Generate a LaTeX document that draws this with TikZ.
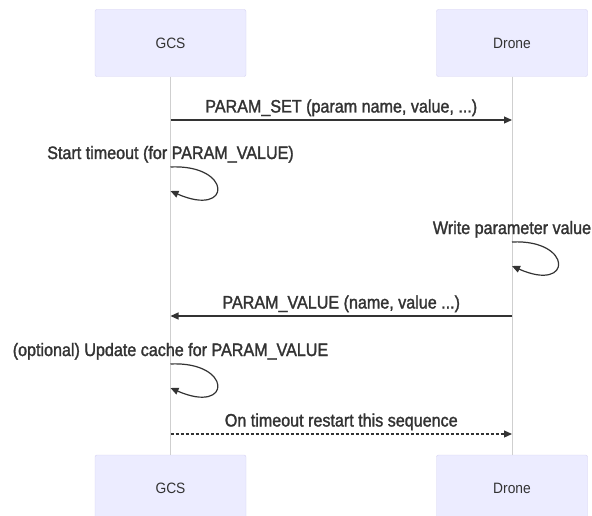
\documentclass[tikz,border=0pt]{standalone}
\usepackage{fontspec}
\setmainfont{Liberation Sans}
\newfontfamily\msgfont{Liberation Sans}[FakeStretch=0.895, FakeBold=1.6]
\newfontfamily\actorfont{Liberation Sans}[FakeStretch=0.92]
\usetikzlibrary{arrows.meta,positioning}
\definecolor{actorfill}{HTML}{ECECFF}
\definecolor{actorline}{HTML}{D4D0F2}
\definecolor{lifeline}{HTML}{CFCFCF}
\definecolor{msgline}{HTML}{333333}

\begin{document}
\begin{tikzpicture}[x=1pt,y=-1pt,
        actor/.style={draw=actorline, fill=actorfill, rounded corners=2pt,
                      minimum width=151pt, minimum height=67pt,
                      font=\actorfont\fontsize{15}{17}\selectfont, text=msgline},
        msg/.style={draw=msgline, line width=1.2pt, -{Triangle[length=8pt,width=7pt]}},
        lbl/.style={font=\msgfont\fontsize{18}{20}\selectfont, text=msgline,
                    inner sep=0pt, anchor=base}]
    \useasboundingbox (0,0) rectangle (592,516);

    % actors
    \node[actor] (gcsTop) at (170.5,43) {GCS};
    \node[actor] (droneTop) at (512,43) {Drone};
    \node[actor] (gcsBot) at (170.5,488.5) {GCS};
    \node[actor] (droneBot) at (512,488.5) {Drone};
    \draw[lifeline, line width=0.8pt] (gcsTop) -- (gcsBot);
    \draw[lifeline, line width=0.8pt] (droneTop) -- (droneBot);

    % points on the lifelines
    \coordinate (g1) at (170.5,120);  \coordinate (d1) at (512,120);
    \coordinate (g2) at (170.5,167);  \coordinate (d3) at (512,242);
    \coordinate (g4) at (170.5,316);  \coordinate (d4) at (512,316);
    \coordinate (g5) at (170.5,364);
    \coordinate (g6) at (170.5,434);  \coordinate (d6) at (512,434);

    \draw[msg] (g1) -- (d1) node[midway, lbl, yshift=7.5pt] {PARAM\_SET (param name, value, ...)};

    \draw[msg] (g2) .. controls +(62,-3) and +(62,27) .. +(0,24);
    \node[lbl, yshift=8pt] (timeout) at (g2) {Start timeout (for PARAM\_VALUE)};

    \draw[msg] (d3) .. controls +(61,-3) and +(61,27) .. +(0,24);
    \node[lbl, yshift=8pt] (write) at (d3) {Write parameter value};

    \draw[msg] (d4) -- (g4) node[midway, lbl, yshift=7.5pt] {PARAM\_VALUE (name, value ...)};

    \draw[msg] (g5) .. controls +(62,-3) and +(62,27) .. +(0,24);
    \node[lbl, yshift=8pt] (cache) at (g5) {(optional) Update cache for PARAM\_VALUE};

    \draw[msg, dash pattern=on 3pt off 2pt] (g6) -- (d6)
        node[midway, lbl, yshift=7.5pt] {On timeout restart this sequence};
\end{tikzpicture}
\end{document}
